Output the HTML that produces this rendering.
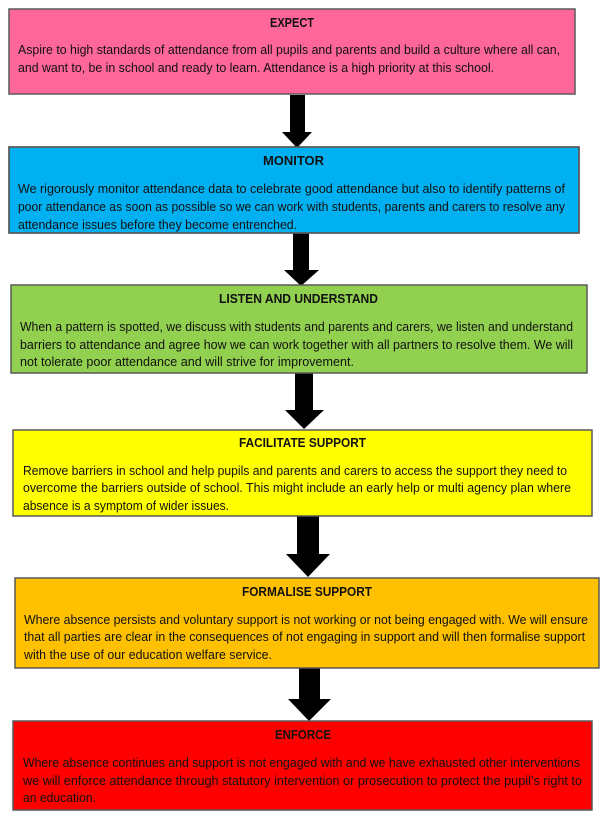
<!DOCTYPE html>
<html><head><meta charset="utf-8"><style>
html,body{margin:0;padding:0;background:#fff;}
svg{display:block;}
text{font-family:"Liberation Sans",sans-serif;fill:#111;}
.t{font-weight:bold;font-size:13px;}
.b{font-size:12.5px;}
rect{stroke:#595959;stroke-width:1.5;}
</style></head><body>
<svg width="600" height="819" viewBox="0 0 600 819" xmlns="http://www.w3.org/2000/svg">
<!-- arrows -->
<g fill="#000">
<rect x="290" y="95" width="15" height="38" style="stroke:none"/><polygon points="282,132 312,132 297,148"/>
<rect x="293" y="233" width="16" height="38" style="stroke:none"/><polygon points="284,270 319,270 301,286"/>
<rect x="295" y="373" width="18" height="39" style="stroke:none"/><polygon points="285,410 324,410 304,429"/>
<rect x="297" y="516" width="22" height="40" style="stroke:none"/><polygon points="286,554 330,554 308,577"/>
<rect x="299" y="668" width="21" height="33" style="stroke:none"/><polygon points="288,699 331,699 309,721"/>
</g>
<rect x="9" y="9" width="566" height="85" fill="#FF6699"/>
<text class="t" x="270" y="27" textLength="44" lengthAdjust="spacingAndGlyphs">EXPECT</text>
<text class="b" x="18" y="54" textLength="542" lengthAdjust="spacingAndGlyphs">Aspire to high standards of attendance from all pupils and parents and build a culture where all can,</text>
<text class="b" x="18" y="72" textLength="476" lengthAdjust="spacingAndGlyphs">and want to, be in school and ready to learn. Attendance is a high priority at this school.</text>

<rect x="9" y="147" width="570" height="86" fill="#00B0F0"/>
<text class="t" x="263" y="165" textLength="61" lengthAdjust="spacingAndGlyphs">MONITOR</text>
<text class="b" x="18" y="193" textLength="547" lengthAdjust="spacingAndGlyphs">We rigorously monitor attendance data to celebrate good attendance but also to identify patterns of</text>
<text class="b" x="18" y="211" textLength="547" lengthAdjust="spacingAndGlyphs">poor attendance as soon as possible so we can work with students, parents and carers to resolve any</text>
<text class="b" x="18" y="229" textLength="279" lengthAdjust="spacingAndGlyphs">attendance issues before they become entrenched.</text>
<rect x="9" y="147" width="570" height="86" fill="none"/>

<rect x="11" y="285" width="576" height="88" fill="#92D050"/>
<text class="t" x="219" y="303" textLength="159" lengthAdjust="spacingAndGlyphs">LISTEN AND UNDERSTAND</text>
<text class="b" x="20" y="331" textLength="553" lengthAdjust="spacingAndGlyphs">When a pattern is spotted, we discuss with students and parents and carers, we listen and understand</text>
<text class="b" x="20" y="349" textLength="553" lengthAdjust="spacingAndGlyphs">barriers to attendance and agree how we can work together with all partners to resolve them. We will</text>
<text class="b" x="20" y="366" textLength="334" lengthAdjust="spacingAndGlyphs">not tolerate poor attendance and will strive for improvement.</text>

<rect x="13" y="430" width="579" height="86" fill="#FFFF00"/>
<text class="t" x="239" y="447" textLength="127" lengthAdjust="spacingAndGlyphs">FACILITATE SUPPORT</text>
<text class="b" x="23" y="475" textLength="544" lengthAdjust="spacingAndGlyphs">Remove barriers in school and help pupils and parents and carers to access the support they need to</text>
<text class="b" x="23" y="492" textLength="548" lengthAdjust="spacingAndGlyphs">overcome the barriers outside of school.  This might include an early help or multi agency plan where</text>
<text class="b" x="23" y="510" textLength="206" lengthAdjust="spacingAndGlyphs">absence is a symptom of wider issues.</text>

<rect x="15" y="578" width="584" height="90" fill="#FFC000"/>
<text class="t" x="242" y="596" textLength="130" lengthAdjust="spacingAndGlyphs">FORMALISE SUPPORT</text>
<text class="b" x="24" y="624" textLength="564" lengthAdjust="spacingAndGlyphs">Where absence persists and voluntary support is not working or not being engaged with. We will ensure</text>
<text class="b" x="24" y="641" textLength="561" lengthAdjust="spacingAndGlyphs">that all parties are clear in the consequences of not engaging in support and will then formalise support</text>
<text class="b" x="24" y="659" textLength="248" lengthAdjust="spacingAndGlyphs">with the use of our education welfare service.</text>

<rect x="13" y="721" width="579" height="89" fill="#FF0000"/>
<text class="t" x="275" y="739" textLength="56" lengthAdjust="spacingAndGlyphs">ENFORCE</text>
<text class="b" x="23" y="767" textLength="557" lengthAdjust="spacingAndGlyphs">Where absence continues and support is not engaged with and we have exhausted other interventions</text>
<text class="b" x="23" y="785" textLength="559" lengthAdjust="spacingAndGlyphs">we will enforce attendance through statutory intervention or prosecution to protect the pupil’s right to</text>
<text class="b" x="23" y="802" textLength="73" lengthAdjust="spacingAndGlyphs">an education.</text>
</svg>
</body></html>
